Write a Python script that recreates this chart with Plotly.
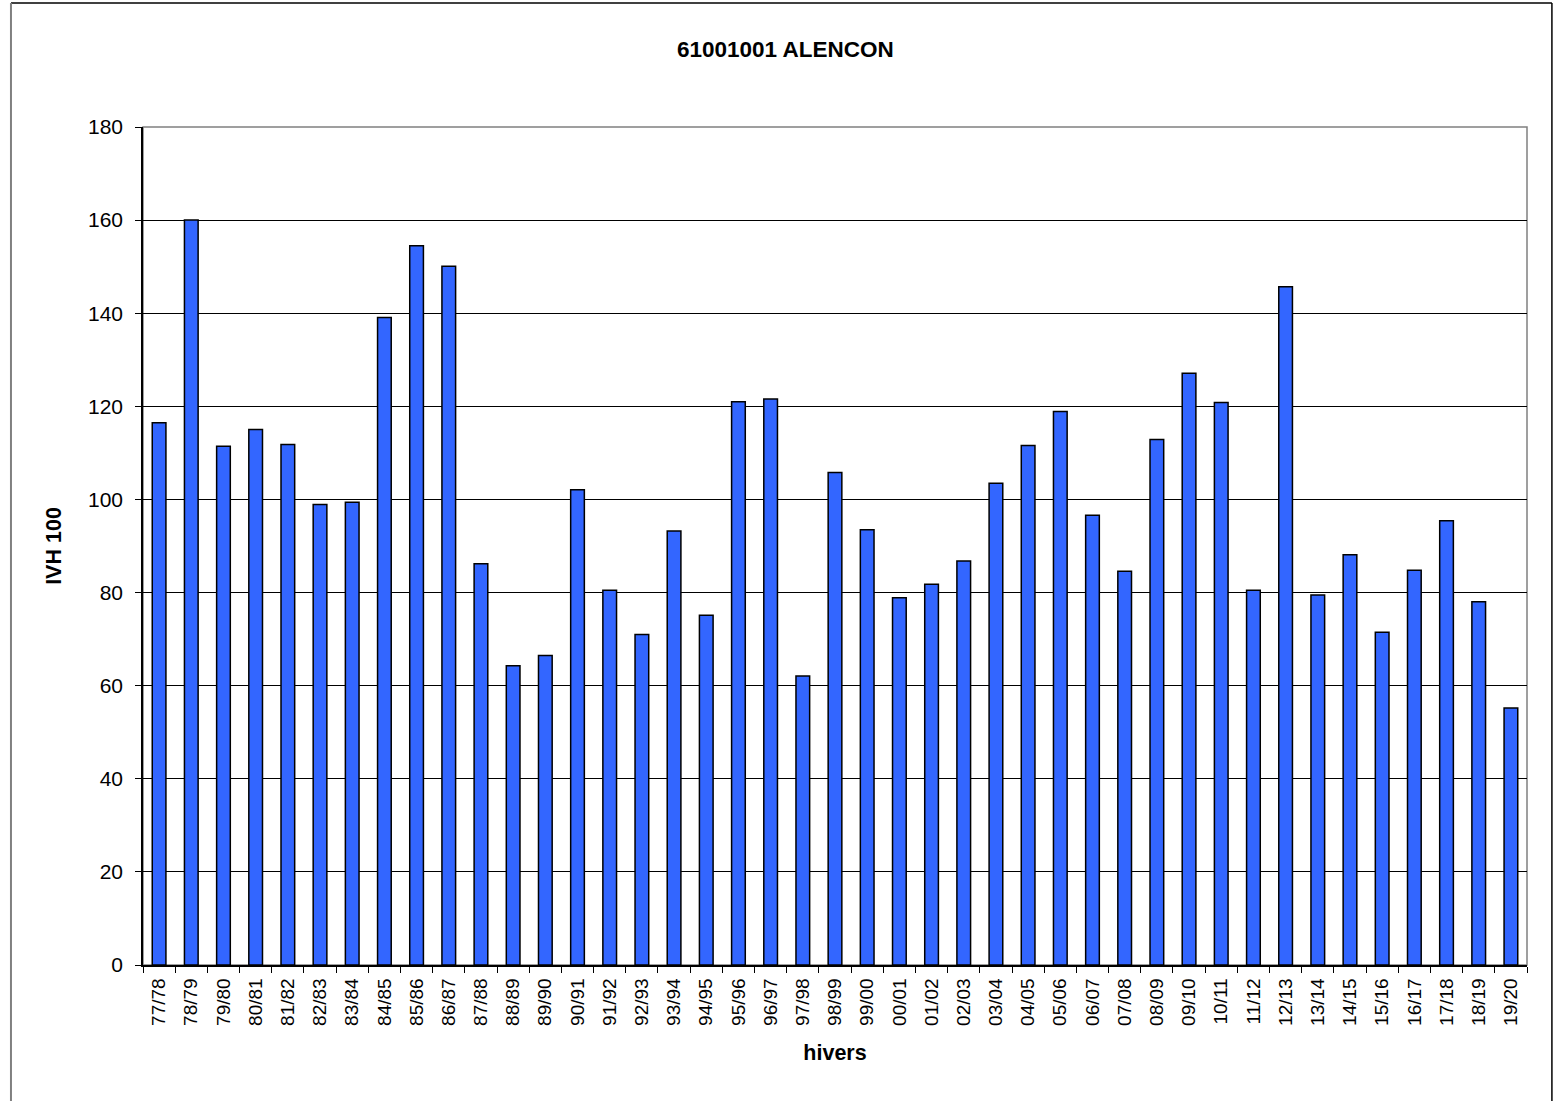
import plotly.graph_objects as go

hivers = ["77/78", "78/79", "79/80", "80/81", "81/82", "82/83", "83/84", "84/85", "85/86", "86/87",
          "87/88", "88/89", "89/90", "90/91", "91/92", "92/93", "93/94", "94/95", "95/96", "96/97",
          "97/98", "98/99", "99/00", "00/01", "01/02", "02/03", "03/04", "04/05", "05/06", "06/07",
          "07/08", "08/09", "09/10", "10/11", "11/12", "12/13", "13/14", "14/15", "15/16", "16/17",
          "17/18", "18/19", "19/20"]
ivh100 = [116.5, 160.0, 111.4, 115.0, 111.8, 98.9, 99.4, 139.1, 154.5, 150.1,
          86.2, 64.3, 66.5, 102.1, 80.5, 71.0, 93.2, 75.1, 121.0, 121.6,
          62.1, 105.8, 93.5, 78.9, 81.8, 86.8, 103.5, 111.6, 118.9, 96.6,
          84.6, 112.9, 127.1, 120.8, 80.5, 145.7, 79.5, 88.1, 71.5, 84.8,
          95.4, 78.0, 55.2]

font = "Liberation Sans, Arial, sans-serif"

fig = go.Figure(go.Bar(
    x=hivers, y=ivh100,
    marker=dict(color="#3366FF", line=dict(color="black", width=1.5)),
))

fig.update_layout(
    width=1555, height=1101,
    margin=dict(l=143, r=28, t=127, b=136),
    paper_bgcolor="white", plot_bgcolor="white",
    bargap=0.575,
    showlegend=False,
    font=dict(family=font, size=20, color="black"),
    title=dict(text="<b>61001001 ALENCON</b>", xref="container", x=0.505, xanchor="center",
               y=0.955, yanchor="middle",
               font=dict(family=font, size=22.5, color="black")),
    xaxis=dict(
        type="category",
        tickangle=-90,
        ticks="outside", ticklen=6, tickcolor="black", tickson="boundaries",
        showline=True, linecolor="black", linewidth=1.5, mirror=False,
        showgrid=False,
        tickfont=dict(size=19),
        ticklabelstandoff=4,
        title=dict(text="<b>hivers</b>", font=dict(size=21.5), standoff=20),
    ),
    yaxis=dict(
        range=[0, 180], dtick=20,
        ticks="outside", ticklen=6, tickcolor="black",
        showline=True, linecolor="black", linewidth=1.5,
        showgrid=True, gridcolor="black", gridwidth=1,
        tickfont=dict(size=21),
        ticklabelstandoff=8,
        title=dict(text="<b>IVH 100</b>", font=dict(size=21.5), standoff=20),
        zeroline=False,
    ),
    shapes=[
        dict(type="rect", xref="paper", yref="paper", x0=0, x1=1, y0=0, y1=1,
             line=dict(color="#808080", width=1.5), fillcolor="rgba(0,0,0,0)", layer="below"),
        # outer chart-area frame
        dict(type="line", xref="paper", yref="paper", x0=-0.0954, x1=1.018, y0=1.148, y1=1.148,
             line=dict(color="black", width=1.5)),
        dict(type="line", xref="paper", yref="paper", x0=1.018, x1=1.018, y0=1.148, y1=-0.2,
             line=dict(color="black", width=1.5)),
        dict(type="line", xref="paper", yref="paper", x0=-0.0954, x1=-0.0954, y0=1.148, y1=-0.2,
             line=dict(color="#808080", width=2)),
    ],
)

fig.write_html("out.html", config={"displayModeBar": False},
               post_script="document.body.style.margin='0';document.body.style.overflow='hidden';")
